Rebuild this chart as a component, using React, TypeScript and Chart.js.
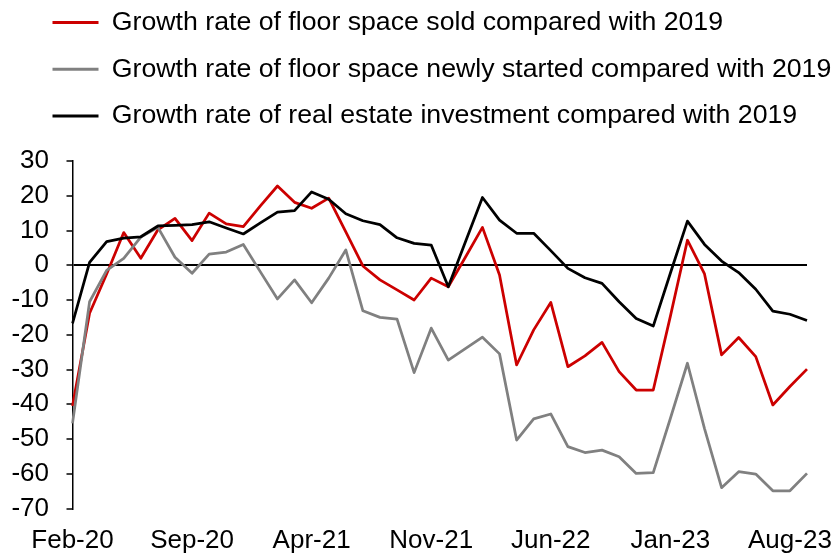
import React, { useEffect, useRef } from 'react';
import { Chart, registerables } from 'chart.js';

Chart.register(...registerables);

const months = [
  'Feb-20', 'Mar-20', 'Apr-20', 'May-20', 'Jun-20', 'Jul-20', 'Aug-20', 'Sep-20', 'Oct-20', 'Nov-20', 'Dec-20',
  'Jan-21', 'Feb-21', 'Mar-21', 'Apr-21', 'May-21', 'Jun-21', 'Jul-21', 'Aug-21', 'Sep-21', 'Oct-21', 'Nov-21', 'Dec-21',
  'Jan-22', 'Feb-22', 'Mar-22', 'Apr-22', 'May-22', 'Jun-22', 'Jul-22', 'Aug-22', 'Sep-22', 'Oct-22', 'Nov-22', 'Dec-22',
  'Jan-23', 'Feb-23', 'Mar-23', 'Apr-23', 'May-23', 'Jun-23', 'Jul-23', 'Aug-23', 'Sep-23',
];

const soldGrowth = [
  -40.5, -13.8, -2.5, 9.4, 2.0, 10.2, 13.5, 7.1, 15.0, 11.9, 11.1,
  17.1, 22.8, 18.1, 16.4, 19.3, 9.6, -0.2, -4.2, -7.1, -10.0, -3.7, -6.2,
  2.3, 10.9, -2.8, -28.7, -18.6, -10.7, -29.2, -26.1, -22.2, -30.6, -35.9, -35.9,
  -14.7, 7.2, -2.5, -25.8, -20.8, -26.3, -40.2, -34.9, -29.9,
];

const startedGrowth = [
  -45.5, -10.5, -1.5, 2.0, 8.1, 10.9, 2.3, -2.3, 3.2, 3.8, 6.0,
  -1.9, -9.7, -4.2, -10.8, -3.7, 4.4, -13.1, -15.0, -15.5, -30.9, -18.1, -27.3,
  -24.0, -20.7, -25.5, -50.3, -44.2, -42.8, -52.2, -53.9, -53.2, -55.1, -59.9, -59.7,
  -44.1, -28.2, -47.0, -64.0, -59.4, -60.1, -64.9, -64.9, -59.9,
];

const investmentGrowth = [
  -16.7, 0.8, 6.8, 7.8, 8.2, 11.3, 11.5, 11.7, 12.5, 10.7, 9.0,
  12.2, 15.3, 15.7, 21.1, 19.0, 14.8, 12.8, 11.7, 7.9, 6.3, 5.8, -6.2,
  6.7, 19.5, 13.0, 9.2, 9.2, 4.2, -0.9, -3.6, -5.2, -10.5, -15.3, -17.5,
  -2.3, 12.7, 6.0, 1.2, -2.1, -6.9, -13.2, -14.1, -15.9,
];

const seriesLabels = [
  'Growth rate of floor space sold compared with 2019',
  'Growth rate of floor space newly started compared with 2019',
  'Growth rate of real estate investment compared with 2019',
];

const RED = '#cc0000';
const GRAY = '#808080';
const BLACK = '#000000';

const legendShift = {
  id: 'legendShift',
  afterLayout(chart: any) {
    const l = chart.legend;
    if (!l) return;
    l.left = 32.5;
    l.right = chart.width;
    l.width = l.right - l.left;
  },
};

export default function App() {
  const ref = useRef<HTMLCanvasElement>(null);

  useEffect(() => {
    document.body.style.margin = '0';
    Chart.defaults.font.family = "'Liberation Sans', Arial, sans-serif";
    Chart.defaults.color = '#000';
    const defaultGen = Chart.defaults.plugins.legend.labels.generateLabels;
    const chart = new Chart(ref.current as HTMLCanvasElement, {
      type: 'line',
      data: {
        labels: months,
        datasets: [
          { label: seriesLabels[0], data: soldGrowth, borderColor: RED, backgroundColor: RED, order: 3 },
          { label: seriesLabels[1], data: startedGrowth, borderColor: GRAY, backgroundColor: GRAY, order: 2 },
          { label: seriesLabels[2], data: investmentGrowth, borderColor: BLACK, backgroundColor: BLACK, order: 1 },
        ],
      },
      plugins: [legendShift],
      options: {
        animation: false,
        responsive: true,
        maintainAspectRatio: false,
        layout: { padding: { top: -10.75, left: 11, right: 28, bottom: 0 } },
        elements: {
          point: { radius: 0, hoverRadius: 0 },
          line: { borderWidth: 2.75, tension: 0, borderJoinStyle: 'round', fill: false },
        },
        plugins: {
          legend: {
            display: true,
            position: 'top',
            align: 'start',
            labels: {
              font: { size: 26.7 },
              color: '#000',
              boxWidth: 46,
              boxHeight: 3,
              padding: 20,
              sort: (a: any, b: any) => a.datasetIndex - b.datasetIndex,
              generateLabels: (c: any) =>
                defaultGen(c).map((l: any) => ({ ...l, fillStyle: l.strokeStyle, lineWidth: 0 })),
            },
          },
          subtitle: {
            display: true,
            text: ' ',
            weight: 500,
            font: { size: 10, lineHeight: 1 },
            padding: { top: 0, bottom: 11.65 },
          } as any,
          tooltip: { enabled: false },
        },
        scales: {
          x: {
            type: 'category',
            offset: false,
            afterFit: (s: any) => {
              s.height = 45.5;
            },
            grid: { display: false, drawTicks: false },
            border: { display: false },
            ticks: {
              autoSkip: false,
              maxRotation: 0,
              minRotation: 0,
              padding: 19.5,
              color: '#000',
              font: { size: 26, lineHeight: 1 },
              callback: (_v: any, i: number) => (i % 7 === 0 ? months[i] : ''),
            },
          },
          y: {
            min: -70,
            max: 30,
            afterFit: (s: any) => {
              s.width = 61.5;
            },
            ticks: { stepSize: 10, autoSkip: false, padding: 17.5, color: '#000', font: { size: 26 } },
            grid: {
              color: (c: any) => (c.tick && c.tick.value === 0 ? '#000' : 'rgba(0,0,0,0)'),
              lineWidth: 2,
              tickColor: '#000',
              tickWidth: 1.5,
              tickLength: 6,
              drawTicks: true,
            },
            border: { display: true, color: '#000', width: 1.5 },
          },
        },
      } as any,
    });
    return () => chart.destroy();
  }, []);

  return (
    <div style={{ position: 'relative', width: 835, height: 554 }}>
      <canvas ref={ref} />
    </div>
  );
}
